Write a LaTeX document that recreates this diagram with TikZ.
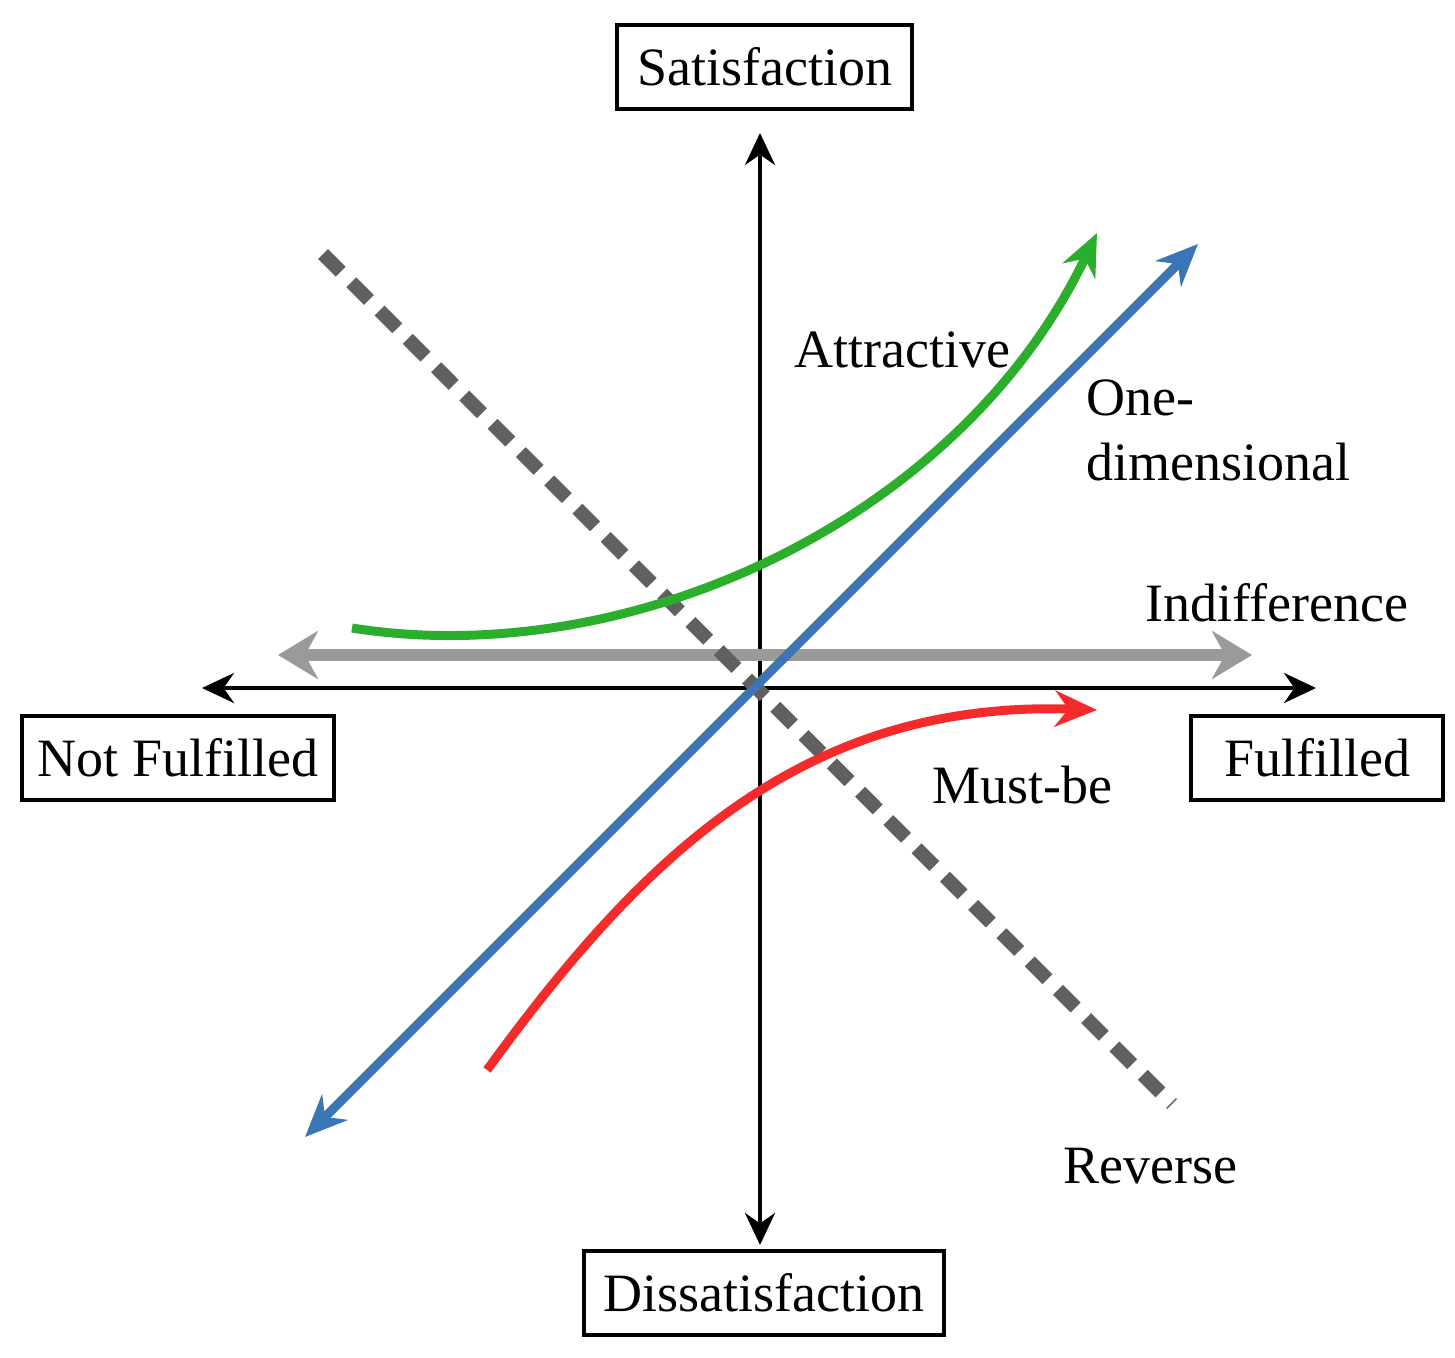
\documentclass[tikz,border=0pt]{standalone}
\usepackage{fontspec}
\setmainfont{Liberation Serif}
\usetikzlibrary{arrows.meta}
\definecolor{cblue}{HTML}{3A75B6}
\definecolor{cgreen}{HTML}{2BAE2B}
\definecolor{cred}{HTML}{F52A2A}
\definecolor{cgray}{HTML}{9A9A9A}
\definecolor{cdash}{HTML}{606060}
\begin{document}
\begin{tikzpicture}[x=1pt,y=-1pt,
  box/.style={draw,line width=4pt,font=\fontsize{54}{64}\selectfont,inner sep=0pt,minimum height=84pt},
  lbl/.style={font=\fontsize{54}{64}\selectfont,inner sep=0pt},
  axis/.style={line width=4pt,-{Stealth[length=32pt,width=30pt]}},
  endtip/.style={-{Stealth[length=42pt,width=36pt]}},
  bothtip/.style={{Stealth[length=42pt,width=36pt]}-{Stealth[length=42pt,width=36pt]}}]
\useasboundingbox (0,0) rectangle (1455,1357);
\node[box,minimum width=295pt] (sat) at (764.5,66.5) {Satisfaction};
\node[box,minimum width=312pt] (nf) at (178,758) {Not Fulfilled};
\node[box,minimum width=252pt] (ful) at (1317,758) {Fulfilled};
\node[box,minimum width=360pt] (dis) at (764,1293) {Dissatisfaction};
\coordinate (o) at (760,688);
\coordinate (top) at (760,133);
\coordinate (bot) at (760,1245);
\coordinate (lft) at (202,688);
\coordinate (rgt) at (1316,688);
\draw[axis] (o) -- (top);
\draw[axis] (o) -- (bot);
\draw[axis] (o) -- (lft);
\draw[axis] (o) -- (rgt);
\coordinate (i1) at (278,655); \coordinate (i2) at (1252,655);
\draw[cgray,line width=12pt,{Stealth[length=40pt,width=48pt]}-{Stealth[length=40pt,width=48pt]}] (i1) -- (i2);
\coordinate (d1) at (323,254); \coordinate (d2) at (1172,1104);
\draw[cdash,line width=14pt,dash pattern=on 25pt off 15pt] (d1) -- (d2);
\coordinate (b1) at (305,1137); \coordinate (b2) at (1198,244);
\draw[cblue,line width=9pt,bothtip] (b1) -- (b2);
\coordinate (g1) at (352,628); \coordinate (g2) at (1097,233);
\draw[cgreen,line width=9pt,endtip] (g1) .. controls (630,672) and (960,520) .. (g2);
\coordinate (r1) at (487,1070); \coordinate (r2) at (1097,710);
\draw[cred,line width=9pt,endtip] (r1) .. controls (640,860) and (800,700) .. (r2);
\node[lbl] (att) at (902,350) {Attractive};
\node[lbl,anchor=west] (one) at (1086,398) {One-};
\node[lbl,anchor=west] (dim) at (1086,462) {dimensional};
\node[lbl] (ind) at (1277,603) {Indifference};
\node[lbl] (mb) at (1022,785) {Must-be};
\node[lbl] (rev) at (1150,1166) {Reverse};
\end{tikzpicture}
\end{document}
